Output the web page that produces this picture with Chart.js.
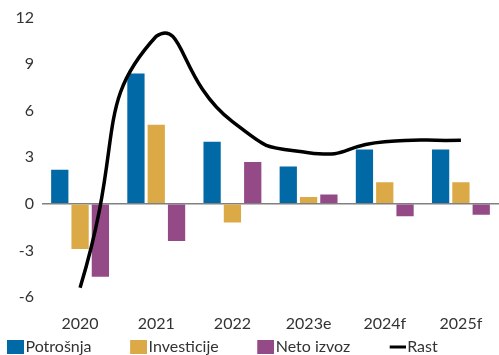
<!DOCTYPE html>
<html>
<head>
<meta charset="utf-8">
<script src="https://cdn.jsdelivr.net/npm/chart.js@4"></script>
<style>
html,body{margin:0;padding:0;background:#fff;}
#wrap{width:499px;height:355px;position:relative;}
</style>
</head>
<body>
<div id="wrap"><canvas id="c" width="499" height="355"></canvas></div>
<script>
const categories = ['2020', '2021', '2022', '2023e', '2024f', '2025f'];
const potrosnja = [2.2, 8.4, 4.0, 2.4, 3.5, 3.5];
const investicije = [-2.9, 5.1, -1.2, 0.45, 1.4, 1.4];
const netoIzvoz = [-4.7, -2.4, 2.7, 0.6, -0.8, -0.7];
const rast = [-5.4, 10.8, 5.3, 3.3, 4.0, 4.1];
const yTicks = [-6, -3, 0, 3, 6, 9, 12];

const FONT = 'Lato';
Chart.defaults.font.family = FONT;
Chart.defaults.font.size = 16;
Chart.defaults.color = '#333333';

// legend marker images: marker sits at the right part of a wider transparent image
function marker(color, kind) {
  const cv = document.createElement('canvas');
  cv.width = 56; cv.height = 14;
  const g = cv.getContext('2d');
  g.fillStyle = color;
  if (kind === 'line') g.fillRect(40, 5.5, 16, 3);
  else g.fillRect(39, 0, 17, 14);
  return cv;
}

new Chart(document.getElementById('c'), {
  type: 'bar',
  data: {
    labels: categories,
    datasets: [
      { label: 'Potrošnja', data: potrosnja, backgroundColor: '#0069a6', pointStyle: marker('#0069a6'), borderWidth: 0, order: 1,
        categoryPercentage: 0.8, barPercentage: 0.85 },
      { label: 'Investicije', data: investicije, backgroundColor: '#dba945', pointStyle: marker('#dba945'), borderWidth: 0, order: 1,
        categoryPercentage: 0.8, barPercentage: 0.85 },
      { label: 'Neto izvoz', data: netoIzvoz, backgroundColor: '#944a86', pointStyle: marker('#944a86'), borderWidth: 0, order: 1,
        categoryPercentage: 0.8, barPercentage: 0.85 },
      { type: 'line', label: 'Rast', data: rast, borderColor: '#000000', backgroundColor: '#000000',
        borderWidth: 3.5, pointRadius: 0, pointHoverRadius: 0, pointStyle: marker('#000000', 'line'), tension: 0.6, order: 0 }
    ]
  },
  options: {
    responsive: false,
    animation: false,
    layout: { padding: { left: -31.5, right: -3, top: 13, bottom: -10 } },
    plugins: {
      tooltip: { enabled: false },
      legend: {
        position: 'bottom',
        align: 'start',
        labels: {
          usePointStyle: true,
          pointStyleWidth: 43,
          boxHeight: 14,
          padding: 6,
          color: '#333333',
          font: { family: FONT, size: 16 },
          sort: (a, b) => a.datasetIndex - b.datasetIndex
        }
      }
    },
    scales: {
      x: {
        grid: { display: false },
        border: { display: false },
        ticks: { padding: 9, color: '#333333', font: { family: FONT, size: 16 } },
        afterFit: (s) => { s.height = 36; }
      },
      y: {
        min: -6, max: 12,
        afterBuildTicks: (s) => { s.ticks = yTicks.map(v => ({ value: v })); },
        grid: {
          drawTicks: false,
          lineWidth: (ctx) => ctx.tick && ctx.tick.value === 0 ? 1.5 : 0,
          color: '#808080'
        },
        border: { display: false },
        ticks: { padding: 8, color: '#333333', font: { family: FONT, size: 16 } },
        afterFit: (s) => { s.width = 73.5; }
      }
    }
  }
});
</script>
</body>
</html>
